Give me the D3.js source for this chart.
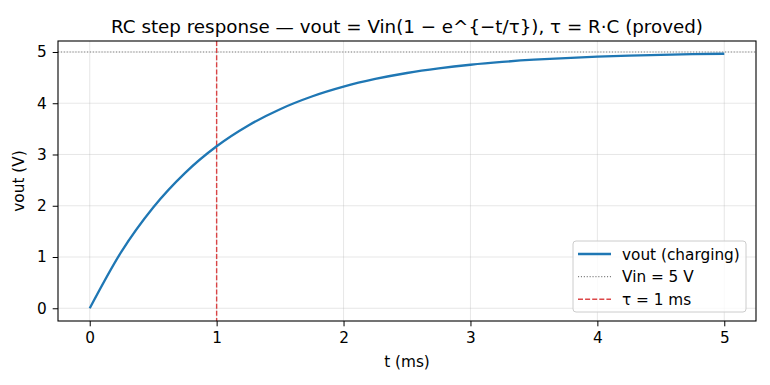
<!DOCTYPE html>
<html>
<head>
<meta charset="utf-8">
<script src="https://cdn.jsdelivr.net/npm/d3@7"></script>
<style>
  body { margin: 0; background: #fff; }
  text { font-family: "DejaVu Sans", sans-serif; fill: #000; }
</style>
</head>
<body>
<div id="chart"></div>
<script>
// values
const tValues = [0, 0.25, 0.5, 0.75, 1, 1.25, 1.5, 1.75, 2, 2.25, 2.5, 2.75, 3, 3.25, 3.5, 3.75, 4, 4.25, 4.5, 4.75, 5];
const voutValues = [0, 1.106, 1.967, 2.638, 3.161, 3.567, 3.884, 4.131, 4.323, 4.473, 4.590, 4.680, 4.751, 4.806, 4.849, 4.882, 4.908, 4.929, 4.944, 4.957, 4.966];
const vin = 5;
const tau = 1;
const xTicks = [0, 1, 2, 3, 4, 5];
const yTicks = [0, 1, 2, 3, 4, 5];
const legendLabels = ['vout (charging)', 'Vin = 5 V', 'τ = 1 ms'];

const width = 770, height = 385;
const margin = { top: 41, right: 14, bottom: 64, left: 58 };
const fontSize = '15.3px';

const svg = d3.select('#chart').append('svg')
    .attr('width', width)
    .attr('height', height);

// matplotlib-like 5% padding around data
const xExt = d3.extent(tValues);
const yExt = d3.extent(voutValues);
const xPad = (xExt[1] - xExt[0]) * 0.05;
const yPad = (yExt[1] - yExt[0]) * 0.05;

const xScale = d3.scaleLinear()
    .domain([xExt[0] - xPad, xExt[1] + xPad])
    .range([margin.left, width - margin.right]);
const yScale = d3.scaleLinear()
    .domain([yExt[0] - yPad, yExt[1] + yPad])
    .range([height - margin.bottom, margin.top]);

const plotW = width - margin.left - margin.right;
const plotH = height - margin.top - margin.bottom;

// grid
svg.append('g')
    .selectAll('line')
    .data(xTicks)
    .join('line')
    .attr('x1', d => xScale(d)).attr('x2', d => xScale(d))
    .attr('y1', margin.top).attr('y2', height - margin.bottom)
    .attr('stroke', '#b0b0b0').attr('stroke-opacity', 0.3).attr('stroke-width', 1);
svg.append('g')
    .selectAll('line')
    .data(yTicks)
    .join('line')
    .attr('x1', margin.left).attr('x2', width - margin.right)
    .attr('y1', d => yScale(d)).attr('y2', d => yScale(d))
    .attr('stroke', '#b0b0b0').attr('stroke-opacity', 0.3).attr('stroke-width', 1);

svg.append('clipPath').attr('id', 'clip')
    .append('rect')
    .attr('x', margin.left).attr('y', margin.top)
    .attr('width', plotW).attr('height', plotH);

const plot = svg.append('g').attr('clip-path', 'url(#clip)');

// Vin line
plot.append('line')
    .attr('x1', margin.left).attr('x2', width - margin.right)
    .attr('y1', yScale(vin)).attr('y2', yScale(vin))
    .attr('stroke', '#808080').attr('stroke-width', 1.1)
    .attr('stroke-dasharray', '1.1,1.8');

// tau line
plot.append('line')
    .attr('x1', xScale(tau)).attr('x2', xScale(tau))
    .attr('y1', margin.top).attr('y2', height - margin.bottom)
    .attr('stroke', '#d62728').attr('stroke-opacity', 0.85).attr('stroke-width', 1.4)
    .attr('stroke-dasharray', '5,2.1');

// curve
const line = d3.line()
    .x((d, i) => xScale(tValues[i]))
    .y(d => yScale(d))
    .curve(d3.curveMonotoneX);

plot.append('path')
    .datum(voutValues)
    .attr('d', line)
    .attr('fill', 'none')
    .attr('stroke', '#1f77b4')
    .attr('stroke-width', 2.3);

// axes
const xAxis = svg.append('g')
    .attr('transform', 'translate(0,' + (height - margin.bottom) + ')')
    .call(d3.axisBottom(xScale).tickValues(xTicks).tickFormat(d3.format('d')).tickSize(5.3).tickPadding(6));
const yAxis = svg.append('g')
    .attr('transform', 'translate(' + margin.left + ',0)')
    .call(d3.axisLeft(yScale).tickValues(yTicks).tickFormat(d3.format('d')).tickSize(5.3).tickPadding(6));
[xAxis, yAxis].forEach(a => {
    a.select('.domain').remove();
    a.selectAll('line').attr('stroke', '#000').attr('stroke-width', 1);
    a.selectAll('text').style('font-family', '"DejaVu Sans", sans-serif').style('font-size', fontSize).attr('fill', '#000');
});

// frame
svg.append('rect')
    .attr('x', margin.left).attr('y', margin.top)
    .attr('width', plotW).attr('height', plotH)
    .attr('fill', 'none').attr('stroke', '#000').attr('stroke-width', 1.1);

// title and labels
svg.append('text')
    .attr('x', margin.left + plotW / 2).attr('y', 33)
    .attr('text-anchor', 'middle')
    .style('font-size', '18.3px')
    .text('RC step response — vout = Vin(1 − e^{−t/τ}), τ = R·C (proved)');

svg.append('text')
    .attr('x', margin.left + plotW / 2).attr('y', 366.5)
    .attr('text-anchor', 'middle')
    .style('font-size', fontSize)
    .text('t (ms)');

svg.append('text')
    .attr('transform', 'translate(23.5,' + (margin.top + plotH / 2) + ') rotate(-90)')
    .attr('text-anchor', 'middle')
    .style('font-size', fontSize)
    .text('vout (V)');

// legend
const lg = svg.append('g').attr('transform', 'translate(573,241)');
lg.append('rect')
    .attr('width', 173).attr('height', 71)
    .attr('rx', 3)
    .attr('fill', '#fff').attr('fill-opacity', 0.8)
    .attr('stroke', '#cccccc').attr('stroke-width', 1);

const legendStyles = [
    { color: '#1f77b4', width: 2.3, dash: null, opacity: 1 },
    { color: '#808080', width: 1.1, dash: '1.1,1.8', opacity: 1 },
    { color: '#d62728', width: 1.4, dash: '5,2.1', opacity: 0.85 }
];

legendLabels.forEach((lab, i) => {
    const y = 13 + i * 22.6;
    const s = legendStyles[i];
    lg.append('line')
        .attr('x1', 5).attr('x2', 38)
        .attr('y1', y).attr('y2', y)
        .attr('stroke', s.color).attr('stroke-width', s.width)
        .attr('stroke-opacity', s.opacity)
        .attr('stroke-dasharray', s.dash);
    lg.append('text')
        .attr('x', 49).attr('y', y + 5.5)
        .style('font-size', fontSize)
        .text(lab);
});
</script>
</body>
</html>
